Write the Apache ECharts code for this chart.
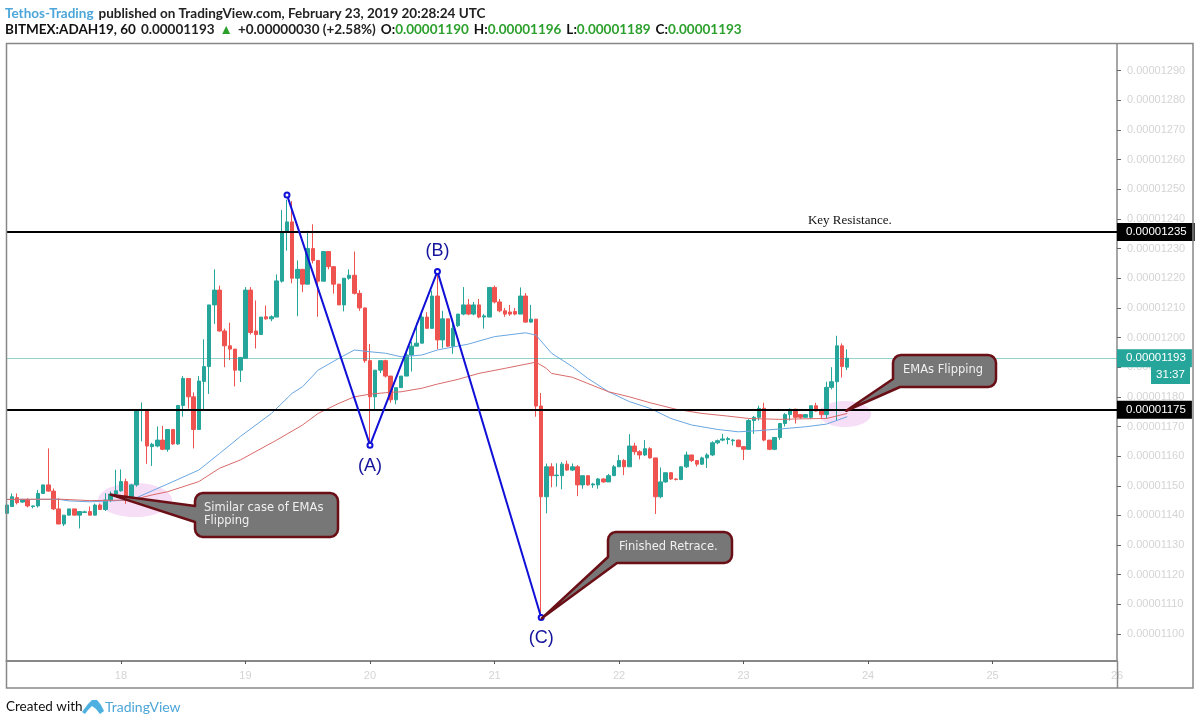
<!DOCTYPE html>
<html>
<head>
<meta charset="utf-8">
<script src="https://cdn.jsdelivr.net/npm/echarts@6/dist/echarts.min.js"></script>
<style>
  html, body { margin: 0; padding: 0; background: #fff; }
  #main { width: 1200px; height: 725px; }
</style>
</head>
<body>
<div id="main"></div>
<script>
// prices are in units of 0.00000001, hours are counted from Feb 18 00:00 UTC
var firstCandleHour = -22;

var opens = [
  1140.7,1143,1146,1144.5,1145.4,1143,1143.2,1147.4,1150.3,1148.2,
  1142.2,1137.1,1140.1,1142.2,1140.1,1141,1141.3,1140.1,1143.5,1142,
  1145.2,1147.2,1148.3,1151.4,1146,1150.3,1175.5,1175.5,1163.2,1163.4,
  1165.4,1162.3,1169,1164.1,1177.1,1186.2,1180,1169,1185.2,1190.2,
  1211,1216,1202.2,1197.2,1196.1,1189,1193,1216,1202.2,1201,
  1207,1206.3,1206.9,1219,1235.5,1239,1220,1223,1218,1230,
  1226,1219,1229,1223.9,1218,1211,1220,1221,1214.9,1210,
  1192.2,1180,1189,1192.2,1187,1179,1183.1,1187,1194.1,1197.1,
  1198.1,1206.9,1203.1,1214,1199.2,1206.3,1197.1,1204,1207.9,1211,
  1207.9,1211,1206.9,1206.9,1216.9,1212,1209,1208.6,1208.8,1207.9,
  1214,1205.2,1206.2,1176.9,1146.3,1156.4,1153.4,1153.4,1157.3,1155.3,
  1156.4,1150.3,1153.4,1150.3,1150.3,1152.3,1151.3,1153.4,1156.4,1158.5,
  1156.4,1163.4,1161.5,1160.4,1162.5,1159.4,1146.3,1151.3,1154.4,1152.3,
  1152.1,1156.4,1160.4,1158.5,1157.3,1159.4,1160.4,1164.5,1165.4,1165.6,
  1165.2,1165.4,1163.2,1162.3,1172,1173.1,1176.1,1165.4,1162.3,1166.3,
  1171,1174,1175.8,1174,1173.1,1173.1,1177,1175.2,1174,1183.2,
  1185.1,1197.2,1190
];
var closes = [
  1143.5,1146.3,1144.3,1145.4,1143.2,1143.2,1147.4,1150.3,1148.2,1142.2,
  1137.1,1140.1,1142.2,1140.1,1141.3,1141.2,1140.1,1143.5,1142,1145.2,
  1147.2,1148.3,1151.4,1146,1150.3,1175.5,1175.7,1163.4,1164,1165.4,
  1162.3,1169,1164.1,1177.1,1186.2,1180,1169,1185.3,1190.2,1211,
  1216,1202.2,1197.2,1196.1,1189,1193.3,1216,1201.7,1201,1206.9,
  1206.3,1207,1219.1,1235.5,1239,1220,1223,1218,1230,1226,
  1219,1229,1223.9,1218,1211,1220,1221,1214.9,1210,1192.2,
  1180,1189,1192.2,1187,1179,1183.1,1187,1194.1,1197.1,1198.1,
  1206.9,1203.1,1214,1199.2,1206.3,1197.1,1203.1,1207.9,1211,1207.9,
  1211,1206.9,1207.3,1216.9,1212,1209,1207.9,1207.9,1207.9,1214,
  1205.2,1206.2,1176.9,1146.3,1156.4,1153.4,1153.6,1157.3,1155.3,1156.4,
  1150.3,1153.4,1150.3,1150.6,1152.3,1151.3,1153.4,1156.4,1158.5,1156.4,
  1163.4,1161.5,1160.4,1162.5,1159.4,1146.3,1151.3,1154.4,1152.3,1152.1,
  1156.4,1160.4,1158.5,1157.3,1159.4,1160.4,1164.5,1165.2,1165.8,1165.9,
  1165.4,1163.2,1162.3,1172,1173.1,1176.1,1165.4,1162.3,1166.3,1171,
  1174,1175.8,1173.1,1173.1,1174,1177,1175.2,1174,1183.2,1185.1,
  1197.2,1190.2,1193
];
var lows = [
  1140,1143,1143.7,1144.3,1142.7,1142.4,1142.7,1147.2,1148,1141.8,
  1137.1,1136.4,1140,1140,1135.6,1140.8,1140,1140,1141.8,1141.5,
  1144.5,1147,1148,1143.9,1145.5,1149.7,1165,1157.4,1156.7,1163,
  1162,1161.5,1163.8,1163.8,1173.3,1176,1162.6,1169,1175.6,1181,
  1204.6,1202,1190,1192.4,1183.5,1185,1193,1201,1196.3,1201,
  1206,1205.5,1206.9,1218.5,1229.3,1218.3,1207.2,1215.3,1218,1225,
  1207,1219,1223,1214.8,1211,1208.8,1219.5,1214.5,1209,1191.5,
  1163.8,1175.3,1188,1186.5,1178,1177.5,1183,1187,1188.5,1197,
  1198,1203,1203,1196,1196.5,1196.8,1194.5,1203.5,1207.5,1207.5,
  1207.5,1206.5,1203,1206.9,1211.5,1208.5,1207,1207.3,1207.5,1207.9,
  1205,1205,1173.3,1105.4,1140.7,1149.5,1149.7,1148.8,1155,1155,
  1146.5,1149,1150,1149.3,1149,1151,1151.3,1153.4,1156.4,1153.6,
  1156.4,1160.5,1158.9,1160,1159.2,1140.5,1145.8,1151,1152,1151.8,
  1151.9,1156,1158,1156.5,1157,1156,1160,1164,1165,1164,
  1163.6,1163,1158.7,1162.3,1167.5,1172,1165,1162,1162,1165.5,
  1170,1172,1171,1172.6,1173,1172.5,1175,1172.5,1172.6,1182.5,
  1172,1186.5,1189
];
var highs = [
  1144,1147.4,1147.4,1145.6,1145.8,1143.3,1148.6,1150.3,1162.6,1149.1,
  1145.8,1140.1,1142.2,1142.2,1141.5,1141.6,1143,1144,1144,1147.5,
  1148.1,1155.4,1155.5,1152.4,1150.5,1175.5,1178.1,1175.5,1164.5,1170,
  1170.2,1169,1169,1177.1,1187,1186.2,1181.5,1187,1199.4,1211,
  1223,1217.5,1203,1205,1196.1,1193.3,1217,1217,1212.5,1206.9,
  1210.8,1207.5,1221.3,1243,1246.5,1246,1226,1223,1236,1238.2,
  1226,1229,1229,1224,1218,1220,1223,1229,1216,1210,
  1197.8,1189,1192.2,1192.5,1187,1183.1,1187,1195.5,1198.6,1205,
  1208,1208.5,1215.8,1222.5,1209,1206.3,1206,1207.9,1217,1213,
  1212,1213,1207.9,1217,1217.5,1213,1210,1211,1210,1216.9,
  1215,1211,1206.3,1181.3,1157.5,1157.6,1157.6,1158,1158.5,1157.5,
  1157,1153.4,1153.4,1151,1152.6,1152.5,1154,1157,1160.4,1159,
  1167.4,1164.5,1162,1165.4,1163,1159.4,1156.2,1154.4,1154.6,1152.5,
  1156.6,1161.5,1160.4,1158.5,1159.8,1161,1165,1165.6,1167.5,1166.5,
  1165.8,1165.6,1163.4,1172.5,1173.5,1177,1178,1165.4,1166.3,1171.2,
  1174.5,1176,1176,1174.2,1174.2,1177,1178,1176,1185.1,1190,
  1200.6,1198,1196
];

// the two EMAs, read at a few hours only
var blueEmaHours = [-22,-12,-10,-6,-2,2,6,9,15,19,23,29,33,35,38,42,45,48,51,54,58,61,67,72,78,80,83,87,90,94,98,102,106,110,115,119,123,128,132,136,140];
var blueEma = [1145.4,1145.4,1144.9,1144.6,1144.9,1145.2,1148.3,1150.6,1155.3,1160.9,1166.6,1174.4,1181.2,1183.4,1189,1193,1195.8,1195.2,1194.7,1193.5,1194.1,1195.8,1197.8,1200.3,1201.6,1200.8,1194.7,1190.2,1186.2,1181.7,1178.4,1176.1,1172.7,1170.5,1169,1168.2,1168.6,1169.3,1169.9,1170.8,1173.3];
var redEmaHours = [-22,-12,-6,2,6,9,15,19,23,30,35,38,42,45,48,51,54,58,61,65,69,74,80,82,83,87,90,94,98,102,107,112,117,121,127,132,136,140];
var redEma = [1145.4,1145.5,1145,1145.2,1146.9,1148,1151.4,1155.9,1158.7,1165.4,1170.5,1174.4,1177.8,1180,1180.9,1181.4,1181.7,1182.9,1184.3,1185.9,1187.9,1189.6,1191.7,1189.6,1187.9,1186.6,1184.5,1181.7,1180,1178,1175.8,1174.4,1173.5,1172.7,1172.4,1172.6,1172.7,1174.4];

// the ABC zigzag
var waveHours = [32, 48, 61, 81];
var wavePrices = [1248.1, 1163.7, 1222.3, 1105.6];
var waveLabels = ['', '(A)', '(B)', '(C)'];

var resistanceLevels = [1235.6, 1175.6];
var resistanceLabels = ['0.00001235', '0.00001175'];
var lastPrice = 1193;
var lastPriceLabel = '0.00001193';
var countdown = '31:37';

var dayTicks = [18, 19, 20, 21, 22, 23, 24, 25, 26];
var priceTicks = [1100,1110,1120,1130,1140,1150,1160,1170,1180,1190,1200,1210,1220,1230,1240,1250,1260,1270,1280,1290];

var glowHours = [2.7, 139.6];
var glowPrices = [1145.2, 1174.2];

var noteHours = [-2, 81.1, 139.8];
var notePrices = [1147, 1105.3, 1175.3];
var noteTexts = ['Similar case of EMAs\nFlipping', 'Finished Retrace.', 'EMAs Flipping'];

var UP = '#26a69a', DOWN = '#ef5350';

function dayToHour(d) {
  return (d - 18) * 24;
}

var candles = opens.map(function (o, i) {
  return [firstCandleHour + i, o, closes[i], lows[i], highs[i]];
});
function zipLine(hours, values) {
  return hours.map(function (h, i) {
    return [h, values[i]];
  });
}

// callout boxes stay put in pixels, only the tip follows the data
var noteBoxes = [
  { x0: 195, y0: 493, x1: 338, y1: 537, baseIn: [195, 522], baseOut: [195, 506], roundBL: true, textX: 204, textY: 515 },
  { x0: 608, y0: 532, x1: 732, y1: 563, baseIn: [617, 563], baseOut: [608, 557], roundBL: false, textX: 619, textY: 547 },
  { x0: 893, y0: 355, x1: 996, y1: 387, baseIn: [900, 387], baseOut: [893, 379], roundBL: false, textX: 903, textY: 370 }
];

function corner(pts, cx, cy, r, start) {
  for (var k = 0; k <= 4; k++) {
    var a = start + k * Math.PI / 8;
    pts.push([cx + r * Math.cos(a), cy + r * Math.sin(a)]);
  }
}

function renderNote(params, api) {
  var b = noteBoxes[params.dataIndex];
  var tip = api.coord([api.value(0), api.value(1)]);
  var r = 8, pts = [];
  corner(pts, b.x0 + r, b.y0 + r, r, Math.PI);
  corner(pts, b.x1 - r, b.y0 + r, r, -Math.PI / 2);
  corner(pts, b.x1 - r, b.y1 - r, r, 0);
  if (b.roundBL) {
    corner(pts, b.x0 + r, b.y1 - r, r, Math.PI / 2);
  }
  pts.push(b.baseIn, tip, b.baseOut);
  return {
    type: 'group',
    children: [{
      type: 'polygon',
      shape: { points: pts },
      style: { fill: '#777777', stroke: '#6b0f17', lineWidth: 2.5, lineJoin: 'round' }
    }, {
      type: 'text',
      style: {
        x: b.textX,
        y: b.textY,
        text: noteTexts[params.dataIndex],
        fill: '#f0f0f0',
        font: '11.5px "DejaVu Sans"',
        lineHeight: 13,
        verticalAlign: 'middle'
      }
    }]
  };
}

function renderGlow(params, api) {
  var c = api.coord([api.value(0), api.value(1)]);
  var big = params.dataIndex === 0;
  return {
    type: 'ellipse',
    shape: { cx: c[0], cy: c[1], rx: big ? 37 : 26, ry: big ? 17 : 13 },
    style: { fill: 'rgba(240, 190, 240, 0.5)' }
  };
}

var resistanceLines = resistanceLevels.map(function (v, i) {
  return {
    yAxis: v,
    lineStyle: { color: '#000', width: 2, type: 'solid' },
    label: {
      show: true,
      position: 'end',
      distance: 0,
      formatter: resistanceLabels[i],
      color: '#fff',
      backgroundColor: '#000',
      fontFamily: 'Liberation Sans',
      fontSize: 11.5,
      padding: [3, i === 0 ? 8 : 6, 3, 9]
    }
  };
});

var chart = echarts.init(document.getElementById('main'));

chart.setOption({
  animation: false,
  backgroundColor: '#fff',
  title: [{
    left: 5,
    top: 5,
    padding: 0,
    text: '{a|Tethos-Trading} {b|published on TradingView.com, February 23, 2019 20:28:24 UTC}',
    textStyle: {
      rich: {
        a: { color: '#4da6d9', fontFamily: 'Lato', fontSize: 13.5 },
        b: { color: '#222', fontFamily: 'Lato', fontSize: 13.5 }
      }
    }
  }, {
    left: 5,
    top: 21,
    padding: 0,
    text: '{h|BITMEX:ADAH19, 60} {b|0.00001193} {g|▲} {b|+0.00000030 (+2.58%)} {h|O:}{g|0.00001190} {h|H:}{g|0.00001196} {h|L:}{g|0.00001189} {h|C:}{g|0.00001193}',
    textStyle: {
      rich: {
        h: { color: '#111', fontFamily: 'Lato', fontSize: 13.5, fontWeight: 'bold' },
        b: { color: '#222', fontFamily: 'Lato', fontSize: 13.5 },
        g: { color: '#2ca02c', fontFamily: 'Lato', fontSize: 13.5 }
      }
    }
  }],
  grid: { left: 6.5, right: 83, top: 44, bottom: 64 },
  xAxis: {
    type: 'value',
    min: -22.07,
    max: dayToHour(26),
    splitLine: { show: false },
    axisLine: { onZero: false, lineStyle: { color: '#888', width: 2 } },
    axisTick: { length: 3, lineStyle: { color: '#555' }, customValues: dayTicks.map(dayToHour) },
    axisLabel: {
      color: '#d4d4d4',
      fontFamily: 'Liberation Sans',
      fontSize: 11,
      margin: 9,
      customValues: dayTicks.map(dayToHour),
      formatter: function (h) {
        return String(18 + h / 24);
      }
    }
  },
  yAxis: {
    type: 'value',
    position: 'right',
    min: 1090.9,
    max: 1299,
    splitLine: { show: false },
    axisLine: { show: true, onZero: false, lineStyle: { color: '#888', width: 1.5 } },
    axisTick: { show: true, length: 4, lineStyle: { color: '#666' }, customValues: priceTicks },
    axisLabel: {
      color: '#d4d4d4',
      fontFamily: 'Liberation Sans',
      fontSize: 11,
      margin: 10,
      customValues: priceTicks,
      formatter: function (v) {
        return '0.0000' + v;
      }
    }
  },
  series: [{
    type: 'custom',
    z: 1,
    silent: true,
    renderItem: renderGlow,
    encode: { x: 0, y: 1 },
    data: zipLine(glowHours, glowPrices)
  }, {
    type: 'candlestick',
    barWidth: 4,
    itemStyle: { color: UP, color0: DOWN, borderColor: UP, borderColor0: DOWN, borderWidth: 1 },
    data: candles,
    markLine: {
      silent: true,
      symbol: 'none',
      precision: 2,
      data: resistanceLines.concat([{
        yAxis: lastPrice,
        lineStyle: { color: UP, width: 1, type: 'dotted' },
        label: {
          show: true,
          position: 'end',
          distance: 0,
          formatter: lastPriceLabel,
          color: '#fff',
          backgroundColor: UP,
          fontFamily: 'Liberation Sans',
          fontSize: 11.5,
          padding: [3, 6, 3, 9]
        }
      }])
    },
    markPoint: {
      silent: true,
      symbol: 'circle',
      symbolSize: 0,
      data: [{ coord: [140.5, 1239.3] }],
      label: {
        show: true,
        position: 'inside',
        formatter: 'Key Resistance.',
        color: '#111',
        fontFamily: 'Liberation Serif',
        fontSize: 13
      }
    }
  }, {
    type: 'line',
    showSymbol: false,
    silent: true,
    lineStyle: { color: '#6aa6e0', width: 1 },
    data: zipLine(blueEmaHours, blueEma)
  }, {
    type: 'line',
    showSymbol: false,
    silent: true,
    lineStyle: { color: '#d96a6a', width: 1 },
    data: zipLine(redEmaHours, redEma)
  }, {
    type: 'line',
    silent: true,
    z: 5,
    symbol: 'emptyCircle',
    symbolSize: 5,
    lineStyle: { color: '#1010d8', width: 2 },
    itemStyle: { color: '#1010d8', borderWidth: 1 },
    data: waveHours.map(function (h, i) {
      return {
        value: [h, wavePrices[i]],
        label: {
          show: waveLabels[i] !== '',
          position: waveLabels[i] === '(B)' ? 'top' : 'bottom',
          distance: 8,
          formatter: waveLabels[i],
          color: '#14149c',
          fontFamily: 'Liberation Sans',
          fontSize: 18
        }
      };
    })
  }, {
    type: 'custom',
    z: 6,
    silent: true,
    clip: false,
    renderItem: renderNote,
    encode: { x: 0, y: 1 },
    data: zipLine(noteHours, notePrices)
  }],
  graphic: [
    // outer frame
    { type: 'rect', z: 10, silent: true, shape: { x: 6.5, y: 43.5, width: 1186.5, height: 644.5 }, style: { fill: 'none', stroke: '#888', lineWidth: 1.5 } },
    { type: 'line', z: 10, silent: true, shape: { x1: 1117.5, y1: 661, x2: 1117.5, y2: 688 }, style: { stroke: '#888', lineWidth: 1.5 } },
    // countdown under the last price
    { type: 'rect', z: 10, silent: true, shape: { x: 1151, y: 366, width: 39, height: 18 }, style: { fill: UP } },
    { type: 'text', z: 11, silent: true, x: 1170.5, y: 375, style: { text: countdown, fill: '#fff', font: '11.5px "Liberation Sans"', align: 'center', verticalAlign: 'middle' } },
    // footer
    { type: 'text', z: 10, silent: true, x: 6, y: 707, style: { text: 'Created with', fill: '#111', font: '13.5px Lato', verticalAlign: 'middle' } },
    { type: 'polygon', z: 10, silent: true, shape: { points: [[82, 712], [88, 704], [92, 700], [97, 700], [101, 705], [104, 711], [100, 714], [96, 709], [92, 706], [88, 710], [85, 714]] }, style: { fill: '#4db0e0' } },
    { type: 'text', z: 10, silent: true, x: 105, y: 707, style: { text: 'TradingView', fill: '#4da6d9', font: '14px Lato', verticalAlign: 'middle' } }
  ]
});
</script>
</body>
</html>
